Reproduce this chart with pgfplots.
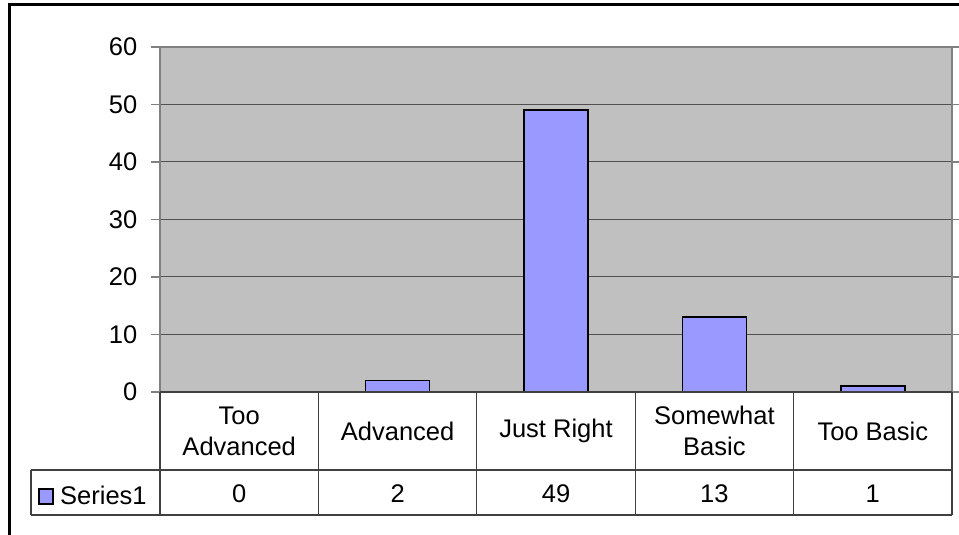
\documentclass[border=0pt]{standalone}
\usepackage{fontspec}
\setmainfont{Liberation Sans}
\usepackage{pgfplots}
\pgfplotsset{compat=1.18}
\usepackage{pgfplotstable}

\definecolor{barfill}{HTML}{9999FF}
\definecolor{plotbg}{HTML}{C0C0C0}
\definecolor{gridc}{HTML}{505050}
\definecolor{tablec}{HTML}{404040}

\pgfplotstableread{
x value
0 0
1 2
2 49
3 13
4 1
}\datatable

\newcommand{\chartfont}{\fontsize{25.5bp}{31bp}\selectfont}

\begin{document}
\chartfont
\begin{tikzpicture}[x=1bp,y=1bp]
\useasboundingbox (0,0) rectangle (959,535);
\draw[line width=3bp] (9,-10) -- (9,530) -- (970,530);
\begin{axis}[
  at={(160bp,143bp)}, anchor=south west,
  scale only axis, width=792bp, height=345bp,
  xmin=-0.5, xmax=4.5, ymin=0, ymax=60,
  ytick={0,10,...,60},
  xtick={0,...,4},
  xticklabels={{Too\\Advanced},Advanced,Just Right,{Somewhat\\Basic},Too Basic},
  /pgf/number format/assume math mode=true,
  x tick label style={anchor=center, yshift=-39bp, align=center, font=\chartfont},
  y tick label style={font=\chartfont, black, xshift=-5bp},
  xtick style={draw=none},
  ytick style={draw=gray, line width=1.5bp},
  ytick align=outside, major tick length=9bp,
  ymajorgrids, grid style={gridc, line width=1bp},
  axis background/.style={fill=plotbg},
  axis line style={draw=gray, line width=2bp},
  clip=false,
]
\addplot[ybar, bar width=64bp, fill=barfill, draw=black, line width=1.5bp]
  table[x=x, y=value]{\datatable};
\addplot[only marks, mark=none, nodes near coords, point meta=explicit symbolic,
  nodes near coords style={anchor=center, font=\chartfont, black}]
  table[x=x, y expr=-17.7, meta=value]{\datatable};
\draw[tablec, line width=1.2bp]
  (axis cs:-0.5,0) -- (axis cs:4.5,0)
  (axis cs:-1.314,-13.565) -- (axis cs:4.5,-13.565)
  (axis cs:-1.314,-21.39) -- (axis cs:4.5,-21.39)
  (axis cs:-1.314,-13.565) -- (axis cs:-1.314,-21.39)
  (axis cs:-0.5,0) -- (axis cs:-0.5,-21.39)
  (axis cs:0.5,0) -- (axis cs:0.5,-21.39)
  (axis cs:1.5,0) -- (axis cs:1.5,-21.39)
  (axis cs:2.5,0) -- (axis cs:2.5,-21.39)
  (axis cs:3.5,0) -- (axis cs:3.5,-21.39)
  (axis cs:4.5,0) -- (axis cs:4.5,-21.39);
\end{axis}
\draw[fill=barfill, line width=1.2bp] (39,31) rectangle (53,46);
\node[anchor=west, inner sep=0pt, font=\chartfont] at (60,40) {Series1};
\end{tikzpicture}
\end{document}
